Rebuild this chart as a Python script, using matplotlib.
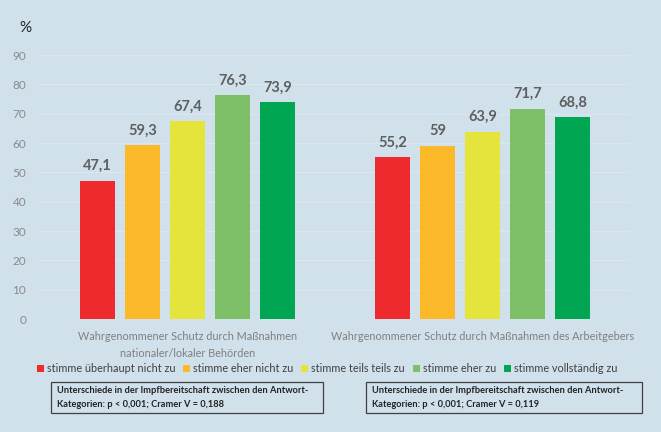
import numpy as np
import matplotlib
matplotlib.use('Agg')
import matplotlib.pyplot as plt
from matplotlib.patches import Rectangle

# ------------------------------------------------------------
# Data
# ------------------------------------------------------------
categories = ["Wahrgenommener Schutz durch Maßnahmen\nnationaler/lokaler Behörden",
              "Wahrgenommener Schutz durch Maßnahmen des Arbeitgebers"]
answers = ["stimme überhaupt nicht zu", "stimme eher nicht zu",
           "stimme teils teils zu", "stimme eher zu", "stimme vollständig zu"]
behoerden = [47.1, 59.3, 67.4, 76.3, 73.9]
arbeitgeber = [55.2, 59.0, 63.9, 71.7, 68.8]
box_texts = ["Unterschiede in der Impfbereitschaft zwischen den Antwort-\nKategorien: p < 0,001; Cramer V = 0,188",
             "Unterschiede in der Impfbereitschaft zwischen den Antwort-\nKategorien: p < 0,001; Cramer V = 0,119"]

colors = ['#ee2a2e', '#fbb829', '#e5e43d', '#7dc067', '#00a651']
bg = '#d0e1ec'

plt.rcParams['font.family'] = ['Lato', 'DejaVu Sans']

fig = plt.figure(figsize=(6.61, 4.32), dpi=100, facecolor=bg)
ax = fig.add_axes([40 / 661, (432 - 319) / 432, 590 / 661, 264 / 432])
ax.set_facecolor(bg)

values = np.array([behoerden, arbeitgeber])
x = np.arange(len(categories))
step, width = 0.153, 0.119
for i, (name, col) in enumerate(zip(answers, colors)):
    pos = x + (i - 2) * step
    bars = ax.bar(pos, values[:, i], width=width, color=col, label=name, zorder=3)
    for b, v in zip(bars, values[:, i]):
        ax.text(b.get_x() + b.get_width() / 2, v + 2.6, f"{v:g}".replace('.', ','),
                ha='center', va='bottom', fontsize=10.5, fontweight='bold',
                color='#5f5f5f')

ax.set_xlim(-0.5, 1.5)
ax.set_ylim(0, 90)
ax.set_yticks(range(0, 91, 10))
ax.tick_params(axis='y', length=0, pad=10, labelsize=8.5, labelcolor='#8a8a8a')
ax.set_xticks(x)
ax.set_xticklabels(categories, fontsize=7.8, color='#7f7f7f', linespacing=1.6)
ax.tick_params(axis='x', length=0, pad=9)
ax.grid(axis='y', color='#dbe6ee', linewidth=0.8, zorder=0)
for s in ax.spines.values():
    s.set_visible(False)
ax.axhline(0, color='#dbe6ee', linewidth=0.8, zorder=1)

fig.text(19 / 661, 1 - 28 / 432, "%", fontsize=11, color='#222222', va='center')

fig.legend(loc='center', bbox_to_anchor=(327 / 661, 1 - 369 / 432), ncol=5,
           frameon=False, fontsize=7.8, handlelength=0.65, handleheight=0.65,
           handletextpad=0.3, columnspacing=0.7, labelcolor='#404040')

# Statistik-Kästen
for (x0, x1), txt in zip([(51, 323), (366, 642)], box_texts):
    fig.add_artist(Rectangle((x0 / 661, 1 - 413 / 432), (x1 - x0) / 661, 31 / 432,
                             transform=fig.transFigure, facecolor='none',
                             edgecolor='#404040', linewidth=0.9))
    fig.text((x0 + 6) / 661, 1 - 397.5 / 432, txt, fontsize=6.7, fontweight='bold',
             color='#222222', va='center', ha='left', linespacing=1.7)

plt.savefig("out.png", dpi=100, facecolor=bg)
